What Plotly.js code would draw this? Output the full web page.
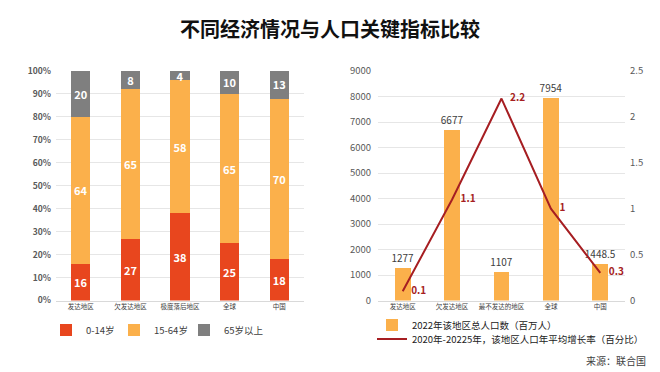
<!DOCTYPE html>
<html><head><meta charset="utf-8">
<script src="https://cdn.plot.ly/plotly-3.0.1.min.js"></script>
<style>html,body{margin:0;padding:0;background:#fff}#c{width:660px;height:372px}</style>
</head><body><div id="c"></div>
<script>
const ageCategories = ["发达地区","欠发达地区","极度落后地区","全球","中国"];
const age0_14 = [16,27,38,25,18];
const age15_64 = [64,65,58,65,70];
const age65plus = [20,8,4,10,13];
const popCategories = ["发达地区","欠发达地区","最不发达的地区","全球","中国"];
const population2022 = [1277,6677,1107,7954,1448.5];
const growthRate = [0.1,1.1,2.2,1,0.3];
const leftTicks = [0,10,20,30,40,50,60,70,80,90,100];
const leftTickText = leftTicks.map(v => v + "%");

const F = '"Noto Sans CJK SC", "Noto Sans", sans-serif';
const cRed = "#E8461E", cOrange = "#FBB04B", cGrey = "#7F7F7F", cLine = "#A61E22";
const inFont = {family:F, size:11, color:"#fff", weight:"bold"};

const traces = [
 {type:"bar", x:ageCategories, y:age0_14, name:"0-14岁", marker:{color:cRed}, width:0.39,
  text:age0_14.map(String), textposition:"inside", insidetextanchor:"middle", textangle:0,
  textfont:inFont, constraintext:"none", xaxis:"x", yaxis:"y", legend:"legend", hoverinfo:"skip"},
 {type:"bar", x:ageCategories, y:age15_64, name:"15-64岁", marker:{color:cOrange}, width:0.39,
  text:age15_64.map(String), textposition:"inside", insidetextanchor:"middle", textangle:0,
  textfont:inFont, constraintext:"none", xaxis:"x", yaxis:"y", legend:"legend4", hoverinfo:"skip"},
 {type:"bar", x:ageCategories, y:age65plus, name:"65岁以上", marker:{color:cGrey}, width:0.39,
  text:age65plus.map(String), textposition:"inside", insidetextanchor:"middle", textangle:0,
  textfont:inFont, constraintext:"none", xaxis:"x", yaxis:"y", legend:"legend5", hoverinfo:"skip"},
 {type:"bar", x:popCategories, y:population2022, name:"2022年该地区总人口数（百万人）",
  marker:{color:cOrange}, width:0.32, offsetgroup:"p",
  text:population2022.map(String), textposition:"outside", cliponaxis:false, textangle:0,
  constraintext:"none",
  textfont:{family:F, size:10, color:"#404040"}, xaxis:"x2", yaxis:"y2", legend:"legend2", hoverinfo:"skip"},
 {type:"scatter", mode:"lines+markers+text", x:popCategories, y:growthRate,
  name:"2020年-20225年，该地区人口年平均增长率（百分比）",
  line:{color:cLine, width:2}, marker:{size:12, color:"rgba(0,0,0,0)"}, text:growthRate.map(String),
  textposition:"middle right",
  textfont:{family:F, size:10, color:cLine, weight:"bold"}, cliponaxis:false,
  xaxis:"x2", yaxis:"y3", legend:"legend3", hoverinfo:"skip"}
];

const tickF = {family:F, size:8.5, color:"#595959", weight:"bold"};
const catF = {family:F, size:6.5, color:"#404040"};
const yDom = [1-300.5/372, 1-71/372];
const legFont = {family:F, size:9.5, color:"#222"};
const leftLegFont = {family:F, size:9.5, color:"#404040"};
function leftLeg(px){
  return {orientation:"v", x:px/660, y:1-330/372, xanchor:"left", yanchor:"middle",
    font:leftLegFont, itemwidth:30, bgcolor:"rgba(0,0,0,0)", itemclick:false, itemdoubleclick:false};
}

const layout = {
 width:660, height:372, margin:{l:0,r:0,t:0,b:0},
 paper_bgcolor:"#fff", plot_bgcolor:"rgba(0,0,0,0)",
 barmode:"stack",
 font:{family:F},
 title:{text:"不同经济情况与人口关键指标比较", x:0.5, xanchor:"center", y:1-30/372, yanchor:"middle",
   font:{family:F, size:20, color:"#111", weight:"bold"}},
 xaxis:{domain:[56/660, 304/660], type:"category", tickfont:catF, showgrid:false,
   showline:true, linecolor:"#d9d9d9", ticks:"", anchor:"y", fixedrange:true},
 yaxis:{domain:yDom, range:[0,100], tickvals:leftTicks, ticktext:leftTickText, tickfont:tickF,
   showgrid:true, gridcolor:"#e6e6e6", zeroline:false, ticklabelstandoff:4, anchor:"x", fixedrange:true},
 xaxis2:{domain:[378/660, 625/660], type:"category", tickfont:catF, showgrid:false,
   showline:true, linecolor:"#d9d9d9", ticks:"", anchor:"y2", fixedrange:true},
 yaxis2:{domain:yDom, range:[0,9000], dtick:1000, tickfont:{family:F, size:9.5, color:"#595959"},
   showgrid:true, gridcolor:"#e6e6e6", zeroline:false, anchor:"x2", ticklabelstandoff:6, fixedrange:true},
 yaxis3:{overlaying:"y2", side:"right", range:[0,2.5], dtick:0.5, anchor:"x2",
   tickfont:{family:F, size:9.5, color:"#595959"}, showgrid:false, zeroline:false, ticklabelstandoff:4, fixedrange:true},
 showlegend:true,
 legend:leftLeg(46),
 legend4:leftLeg(114),
 legend5:leftLeg(184),
 legend2:{orientation:"v", x:372/660, y:1-325/372, xanchor:"left", yanchor:"middle",
   font:legFont, itemwidth:30, bgcolor:"rgba(0,0,0,0)", itemclick:false, itemdoubleclick:false},
 legend3:{orientation:"v", x:372/660, y:1-339/372, xanchor:"left", yanchor:"middle",
   font:legFont, itemwidth:30, bgcolor:"rgba(0,0,0,0)", itemclick:false, itemdoubleclick:false},
 annotations:[{text:"来源：联合国", xref:"paper", yref:"paper", x:648/660, y:1-360/372,
   xanchor:"right", yanchor:"middle", showarrow:false, font:{family:F, size:10, color:"#404040"}}]
};
Plotly.newPlot("c", traces, layout, {staticPlot:true, displayModeBar:false});
</script></body></html>
